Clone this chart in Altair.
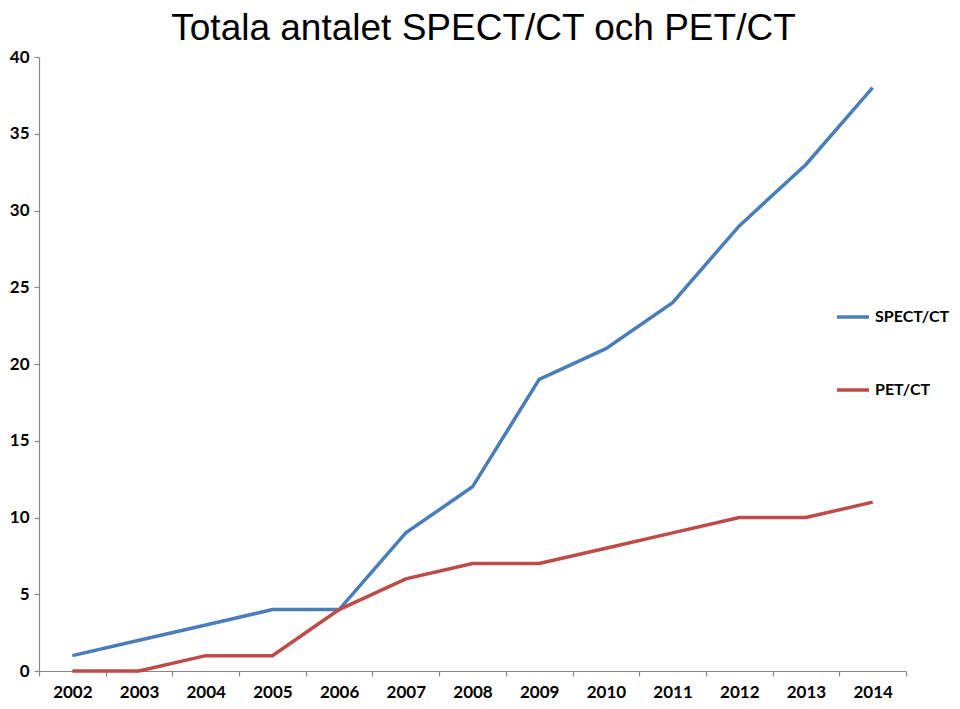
import altair as alt
import pandas as pd

years = ["2002", "2003", "2004", "2005", "2006", "2007", "2008",
         "2009", "2010", "2011", "2012", "2013", "2014"]
spect_ct = [1, 2, 3, 4, 4, 9, 12, 19, 21, 24, 29, 33, 38]
pet_ct = [0, 0, 1, 1, 4, 6, 7, 7, 8, 9, 10, 10, 11]
series = ["SPECT/CT", "PET/CT"]
colors = ["#4A7EBB", "#BE4B48"]
y_ticks = [0, 5, 10, 15, 20, 25, 30, 35, 40]

rows = []
for name, vals in zip(series, [spect_ct, pet_ct]):
    for yr, v in zip(years, vals):
        rows.append({"year": yr, "value": v, "series": name})
df = pd.DataFrame(rows)

font = "Lato"
axis_color = "#888888"

chart = alt.Chart(df).mark_line(strokeWidth=3.5).encode(
    x=alt.X("year:O", sort=years,
            scale=alt.Scale(type="band", paddingInner=0, paddingOuter=0),
            axis=alt.Axis(title=None, labelAngle=0, tickBand="extent",
                          labelFont=font, labelFontWeight="bold", labelFontSize=17,
                          labelColor="black", labelPadding=8, tickSize=5,
                          domainColor=axis_color, tickColor=axis_color,
                          domainWidth=1.2, tickWidth=1.2)),
    y=alt.Y("value:Q", scale=alt.Scale(domain=[0, 40], nice=False),
            axis=alt.Axis(title=None, values=y_ticks, grid=False,
                          labelFont=font, labelFontWeight="bold", labelFontSize=17,
                          labelColor="black", labelPadding=5, tickSize=5,
                          domainColor=axis_color, tickColor=axis_color,
                          domainWidth=1.2, tickWidth=1.2)),
    color=alt.Color("series:N", sort=series,
                    scale=alt.Scale(domain=series, range=colors),
                    legend=alt.Legend(title=None, orient="none", legendX=796, legendY=242,
                                      symbolType="stroke", symbolSize=1024,
                                      symbolStrokeWidth=3.5, labelFont=font,
                                      labelFontWeight="bold", labelFontSize=16,
                                      labelColor="black", labelOffset=4,
                                      rowPadding=47)),
).properties(
    width=867, height=614,
    title=alt.TitleParams("Totala antalet SPECT/CT och PET/CT", font="Liberation Sans",
                          fontSize=37, fontWeight="normal", color="black",
                          anchor="middle", frame="group", dx=11, offset=0),
    autosize=alt.AutoSizeParams(type="none"),
    padding={"left": 31, "top": 49, "right": 46, "bottom": 30},
).configure_view(stroke=None)

chart.save("out.html", embed_options={"renderer": "svg", "actions": False})
